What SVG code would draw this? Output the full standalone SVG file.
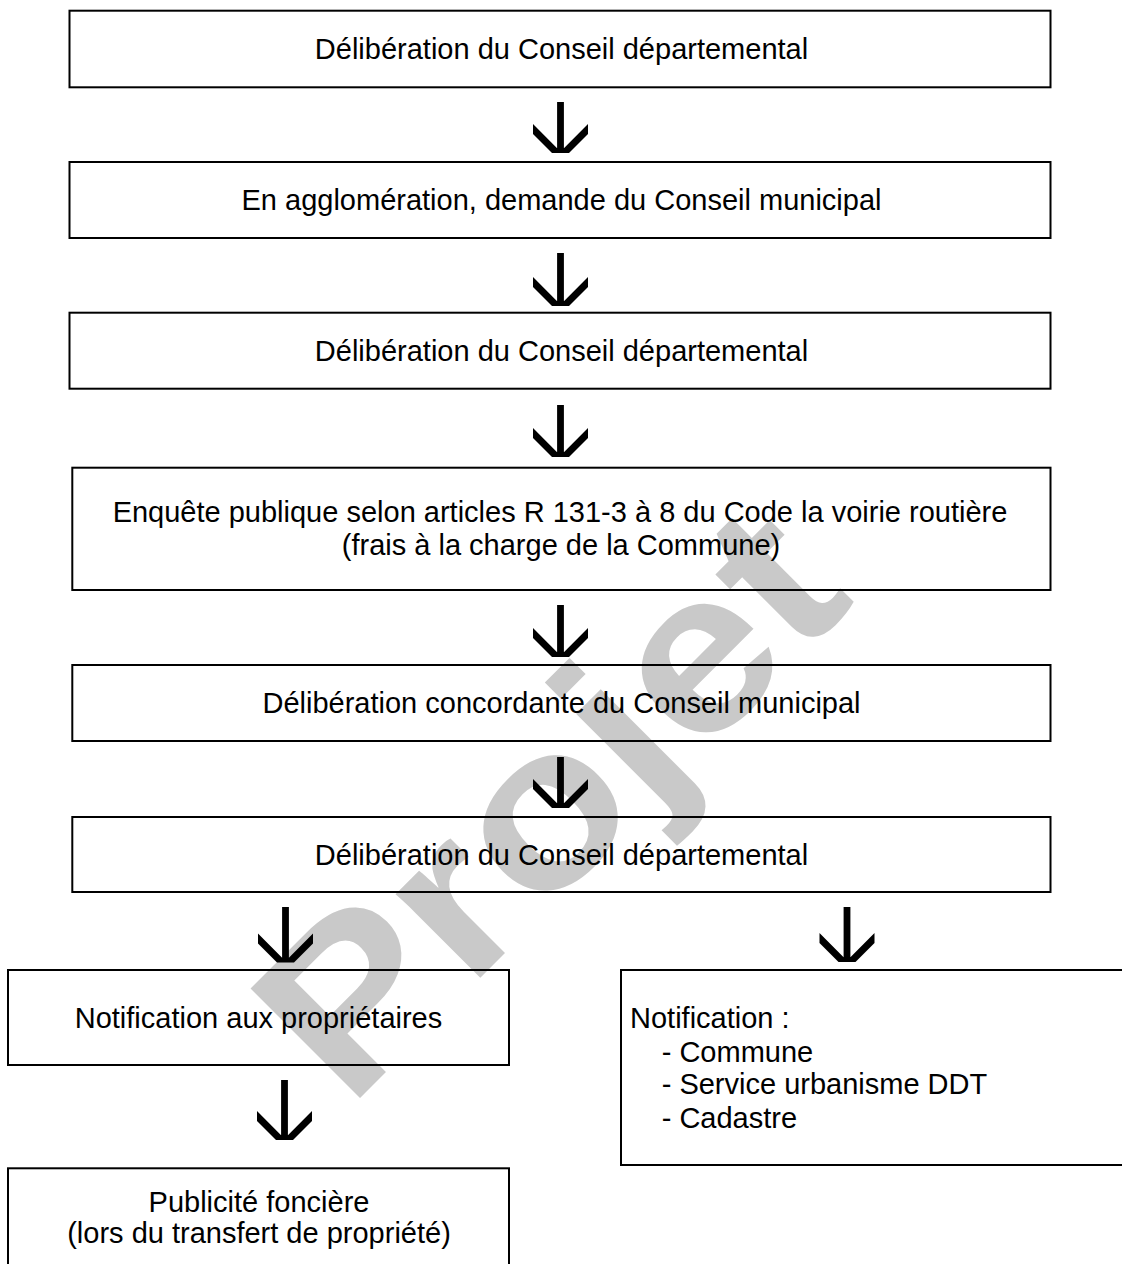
<svg xmlns="http://www.w3.org/2000/svg" width="1122" height="1264" viewBox="0 0 1122 1264">
<style>
.box{fill:none;stroke:#000;stroke-width:2}
.t{font-family:"Liberation Sans",Arial,sans-serif;font-size:29px;fill:#000}
.c{text-anchor:middle}
.arrow{fill:#000;stroke:none}
.wm{font-family:"Liberation Sans",Arial,sans-serif;font-weight:bold;font-size:225px;fill:#c9c9c9}
</style>
<rect width="1122" height="1264" fill="#fff"/>
<g id="watermark">
<text class="wm" transform="translate(348,1110) rotate(-45)" textLength="720" lengthAdjust="spacingAndGlyphs">Projet</text>
</g>
<g id="n1"><rect class="box" x="69.5" y="10.7" width="981" height="76.6"/><text class="t c" x="561.5" y="59">Délibération du Conseil départemental</text></g>
<g id="n2"><rect class="box" x="69.5" y="162" width="981" height="76"/><text class="t c" x="561.5" y="210">En agglomération, demande du Conseil municipal</text></g>
<g id="n3"><rect class="box" x="69.5" y="312.7" width="981" height="76"/><text class="t c" x="561.5" y="361">Délibération du Conseil départemental</text></g>
<g id="n4"><rect class="box" x="72.3" y="467.7" width="978.2" height="122.3"/><text class="t c" x="560" y="521.7">Enquête publique selon articles R 131-3 à 8 du Code la voirie routière</text><text class="t c" x="561" y="555">(frais à la charge de la Commune)</text></g>
<g id="n5"><rect class="box" x="72.3" y="665" width="978.2" height="76"/><text class="t c" x="561.5" y="713">Délibération concordante du Conseil municipal</text></g>
<g id="n6"><rect class="box" x="72.3" y="817" width="978.2" height="75"/><text class="t c" x="561.5" y="865">Délibération du Conseil départemental</text></g>
<g id="n7"><rect class="box" x="8" y="970" width="501" height="95"/><text class="t c" x="258.5" y="1028.3">Notification aux propriétaires</text></g>
<g id="n8"><rect class="box" x="621" y="970" width="520" height="195"/><text class="t" x="630" y="1028.3">Notification :</text><text class="t" x="661.7" y="1061.7">- Commune</text><text class="t" x="661.7" y="1093.5">- Service urbanisme DDT</text><text class="t" x="661.7" y="1127.7">- Cadastre</text></g>
<g id="n9"><rect class="box" x="8" y="1168.3" width="501" height="120"/><text class="t c" x="259" y="1211.7">Publicité foncière</text><text class="t c" x="259" y="1243.3">(lors du transfert de propriété)</text></g>
<g id="connectors">
<path class="arrow" transform="translate(560.5,153)" d="M-3.4,-51H3.4V-4.8L27.5,-29V-19L8.5,0H-8.5L-27.5,-19V-29L-3.4,-4.8Z"/>
<path class="arrow" transform="translate(560.5,306)" d="M-3.4,-53H3.4V-4.8L27.5,-29V-19L8.5,0H-8.5L-27.5,-19V-29L-3.4,-4.8Z"/>
<path class="arrow" transform="translate(560.5,457)" d="M-3.4,-52H3.4V-4.8L27.5,-29V-19L8.5,0H-8.5L-27.5,-19V-29L-3.4,-4.8Z"/>
<path class="arrow" transform="translate(560.5,657)" d="M-3.4,-52H3.4V-4.8L27.5,-29V-19L8.5,0H-8.5L-27.5,-19V-29L-3.4,-4.8Z"/>
<path class="arrow" transform="translate(560.5,808)" d="M-3.4,-51H3.4V-4.8L27.5,-29V-19L8.5,0H-8.5L-27.5,-19V-29L-3.4,-4.8Z"/>
<path class="arrow" transform="translate(285.5,962.5)" d="M-3.4,-55.5H3.4V-4.8L27.5,-29V-19L8.5,0H-8.5L-27.5,-19V-29L-3.4,-4.8Z"/>
<path class="arrow" transform="translate(847,962)" d="M-3.4,-55H3.4V-4.8L27.5,-29V-19L8.5,0H-8.5L-27.5,-19V-29L-3.4,-4.8Z"/>
<path class="arrow" transform="translate(284.5,1140)" d="M-3.4,-60H3.4V-4.8L27.5,-29V-19L8.5,0H-8.5L-27.5,-19V-29L-3.4,-4.8Z"/>
</g>
</svg>
